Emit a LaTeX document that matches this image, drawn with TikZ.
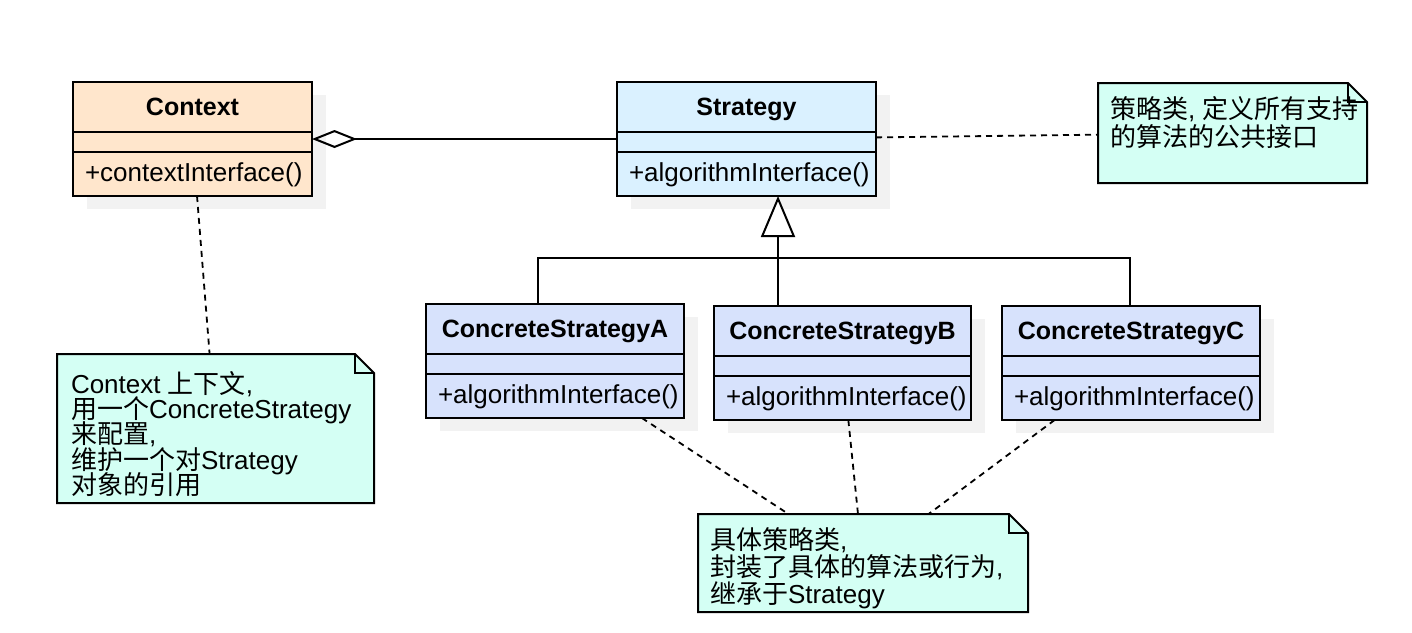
\documentclass[tikz,border=0pt]{standalone}
\usepackage{fontspec}
\setmainfont{Liberation Sans}
\newfontfamily\cjk{Noto Sans CJK SC}
\usetikzlibrary{arrows.meta,shadows}
\definecolor{ctxfill}{HTML}{FFE6CC}
\definecolor{strfill}{HTML}{DAF1FF}
\definecolor{concfill}{HTML}{D7E2FC}
\definecolor{notefill}{HTML}{D4FFF4}
\definecolor{shadegray}{HTML}{F2F2F2}
\newcommand\notefont[1]{\fontsize{13}{#1}\selectfont\lineskiplimit=-10pt\relax}

\begin{document}
\begin{tikzpicture}[x=0.5pt,y=-0.5pt,line width=1pt,
  font=\fontsize{13}{13.5}\selectfont,
  cls/.style={draw,anchor=north west,minimum height=57pt,inner sep=0pt,outer sep=0pt,
    drop shadow={fill=shadegray,opacity=1,shadow xshift=7pt,shadow yshift=-6.5pt}},
  clsname/.style={anchor=base,font=\fontsize{12.5}{13.5}\selectfont\bfseries},
  clsop/.style={anchor=base west,inner sep=0pt},
  notebox/.style={fill=notefill,anchor=north west,inner sep=0pt,outer sep=0pt},
  notetext/.style={anchor=north west,align=left,inner sep=0pt,font=\notefont{#1}},
  noteline/.style={line width=0.9pt,dash pattern=on 3pt off 2.5pt},
  agg/.style={{Diamond[open,length=22.5pt,width=9pt]}-},
  inh/.style={-{Triangle[length=20.5pt,width=17pt,fill=white]}}]

\useasboundingbox (0,0) rectangle (1412,632);

\node[cls,fill=ctxfill,minimum width=119.5pt] (c) at (73,82) {};
\node[cls,fill=strfill,minimum width=129.5pt] (s) at (617,82) {};
\node[cls,fill=concfill,minimum width=129pt] (sa) at (426,304) {};
\node[cls,fill=concfill,minimum width=128.5pt] (sb) at (714,306) {};
\node[cls,fill=concfill,minimum width=129pt] (sc) at (1002,306) {};

\foreach \cn/\ct/\cm in {c/Context/contextInterface,s/Strategy/algorithmInterface,
    sa/ConcreteStrategyA/algorithmInterface,sb/ConcreteStrategyB/algorithmInterface,
    sc/ConcreteStrategyC/algorithmInterface}{
  \draw ([yshift=-25pt]\cn.north west) -- ([yshift=-25pt]\cn.north east);
  \draw ([yshift=-35pt]\cn.north west) -- ([yshift=-35pt]\cn.north east);
  \node[clsname] at ([yshift=-16.5pt]\cn.north) {\ct};
  \node[clsop] at ([shift={(5.5pt,-49.5pt)}]\cn.north west) {+\cm()};
}

\node[notebox,minimum width=134.5pt,minimum height=50pt] (n1) at (1098,83) {};
\node[notebox,minimum width=158.5pt,minimum height=74.5pt] (n2) at (57,354) {};
\node[notebox,minimum width=165pt,minimum height=49pt] (n3) at (698,514) {};

\foreach \nn in {n1,n2,n3}{
  \fill[white] (\nn.north east) -- ([xshift=-9.5pt]\nn.north east) -- ([yshift=-9.5pt]\nn.north east) -- cycle;
  \draw (\nn.north west) -- ([xshift=-9.5pt]\nn.north east) -- ([yshift=-9.5pt]\nn.north east)
    -- (\nn.south east) -- (\nn.south west) -- cycle;
  \draw ([xshift=-9.5pt]\nn.north east) -- ([xshift=-9.5pt,yshift=-9.5pt]\nn.north east)
    -- ([yshift=-9.5pt]\nn.north east);
}

\node[notetext=14pt] at ([shift={(5.5pt,-6pt)}]n1.north west)
  {{\cjk 策略类}, {\cjk 定义所有支持}\\{\cjk 的算法的公共接口}};
\node[notetext=12.7pt] at ([shift={(6.5pt,-8pt)}]n2.north west)
  {Context {\cjk 上下文},\\{\cjk 用一个}ConcreteStrategy\\{\cjk 来配置},\\{\cjk 维护一个对}Strategy\\{\cjk 对象的引用}};
\node[notetext=13.3pt] at ([shift={(5.5pt,-6.5pt)}]n3.north west)
  {{\cjk 具体策略类},\\{\cjk 封装了具体的算法或行为},\\{\cjk 继承于}Strategy};

\coordinate (ja) at (538,258);
\coordinate (jb) at (778,258);
\coordinate (jc) at (1130,258);

\draw[agg] (c) -- (s);
\draw (sa.north -| ja) -- (ja) -- (jc) -- (sc.north -| jc);
\draw[inh] (sb.north -| jb) -- (s.south -| jb);
\draw[noteline] (s) -- (n1);
\draw[noteline] (c) -- (n2);
\draw[noteline] (sa) -- (n3);
\draw[noteline] (sb) -- (n3);
\draw[noteline] (sc) -- (n3);
\end{tikzpicture}
\end{document}
